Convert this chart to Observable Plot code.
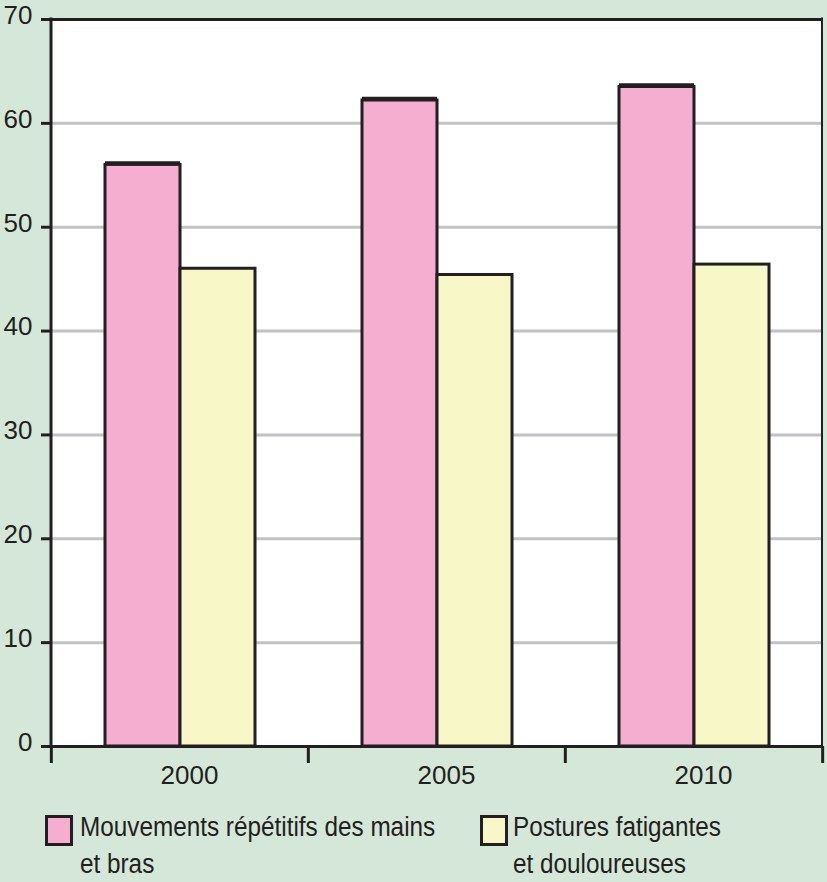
<!DOCTYPE html>
<html>
<head>
<meta charset="utf-8">
<script src="https://cdn.jsdelivr.net/npm/d3@7"></script>
<script src="https://cdn.jsdelivr.net/npm/@observablehq/plot@0.6"></script>
<style>
  html, body { margin: 0; padding: 0; background: #d5e7d9; }
  body { width: 827px; height: 882px; overflow: hidden; font-family: "Liberation Sans", Arial, sans-serif; color: #231f20; }
  #chart svg { display: block; }
  #legend { position: relative; width: 827px; height: 82px; font-size: 27px; line-height: 37px; }
  .item { position: absolute; top: 9px; }
  .sw { position: absolute; top: 6px; width: 22px; height: 25px; border: 3px solid #231f20; }
  .lab { position: absolute; top: 0; white-space: nowrap; transform: scaleX(0.9); transform-origin: left center; }
</style>
</head>
<body>
<div id="chart"></div>
<div id="legend"></div>
<script>
const years = ["2000", "2005", "2010"];
const seriesNames = ["Mouvements répétitifs des mains et bras", "Postures fatigantes et douloureuses"];
const seriesLines = [["Mouvements répétitifs des mains", "et bras"], ["Postures fatigantes", "et douloureuses"]];
const mouvements = [56, 62.2, 63.5];
const postures = [46, 45.4, 46.4];
const yTicks = [0, 10, 20, 30, 40, 50, 60, 70];
const colors = ["#f5aed0", "#f8f7c8"];

const data = years.flatMap((yr, i) => [
  {year: yr, series: seriesNames[0], value: mouvements[i]},
  {year: yr, series: seriesNames[1], value: postures[i]}
]);

const ink = "#231f20";
const W = 827, mL = 50, mR = 5;
const half = (W - mL - mR) / years.length / 2;

const chart = Plot.plot({
  width: W,
  height: 800,
  marginLeft: mL,
  marginRight: mR,
  marginTop: 19,
  marginBottom: 54,
  style: {background: "transparent", fontFamily: '"Liberation Sans", Arial, sans-serif', fontSize: "26px", color: ink, overflow: "visible"},
  fx: {domain: years, padding: 0, label: null, axis: null},
  x: {domain: seriesNames, paddingInner: 0, paddingOuter: 0.7, axis: null},
  y: {domain: [0, 70], label: null, axis: null},
  color: {domain: seriesNames, range: colors},
  marks: [
    Plot.frame({fill: "white", stroke: "white", strokeWidth: 1}),
    Plot.gridY(yTicks.filter(t => t > 0 && t < 70), {stroke: "#c3c3c7", strokeWidth: 3, strokeOpacity: 1}),
    Plot.barY(data, {fx: "year", x: "series", y: "value", fill: "series", stroke: ink, strokeWidth: 3}),
    Plot.tickY(data.filter(d => d.series === seriesNames[0]), {fx: "year", x: "series", y: "value", stroke: ink, strokeWidth: 3.5, dy: -2}),
    Plot.ruleY([0], {stroke: ink, strokeWidth: 3}),
    Plot.ruleY([70], {stroke: ink, strokeWidth: 3}),
    Plot.axisY({ticks: yTicks, tickSize: 10, fill: "none", stroke: ink, strokeWidth: 3}),
    Plot.axisY({ticks: yTicks, tickSize: 0, tickPadding: 19, dy: -4, fill: ink}),
    Plot.axisFx({anchor: "bottom", tickSize: 17, fill: "none", stroke: ink, strokeWidth: 3, dx: -half}),
    Plot.axisFx({anchor: "bottom", ticks: [years[years.length - 1]], tickSize: 17, fill: "none", stroke: ink, strokeWidth: 3, dx: half}),
    Plot.axisFx({anchor: "bottom", tickSize: 0, tickPadding: 19, dx: 9.5, fill: ink})
  ]
});
document.getElementById("chart").appendChild(chart);

// frame borders (left and right) placed with the plot's own scales
const fxs = chart.scale("fx"), ys = chart.scale("y");
const x0 = fxs.apply(years[0]);
const x1 = fxs.apply(years[years.length - 1]) + fxs.bandwidth;
const svg = d3.select(chart);
svg.append("line").attr("x1", x0).attr("x2", x0).attr("y1", ys.apply(70) - 1.5).attr("y2", ys.apply(0) + 1.5)
  .attr("stroke", ink).attr("stroke-width", 3);
svg.append("line").attr("x1", x1).attr("x2", x1).attr("y1", ys.apply(70) - 1.5).attr("y2", ys.apply(0) + 1.5)
  .attr("stroke", ink).attr("stroke-width", 2);

// legend
const legend = d3.select("#legend");
const legendLeft = [45, 480];
seriesNames.forEach((s, i) => {
  const it = legend.append("div").attr("class", "item").style("left", legendLeft[i] + "px");
  it.append("div").attr("class", "sw").style("background", colors[i]).style("left", "0px");
  it.append("div").attr("class", "lab").style("left", (i === 0 ? 35 : 33) + "px")
    .html(seriesLines[i].join("<br>"));
});
</script>
</body>
</html>
